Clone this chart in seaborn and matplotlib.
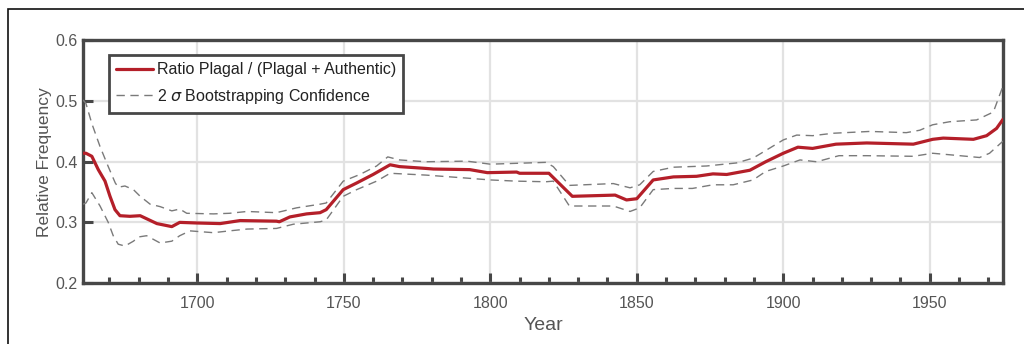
import matplotlib
matplotlib.use("Agg")
import matplotlib.pyplot as plt
from matplotlib.patches import Rectangle
from matplotlib.ticker import MultipleLocator
import seaborn as sns

# Ratio of plagal cadences among all plagal + authentic cadences, smoothed over time
years_ratio = [1661, 1662, 1664, 1666.2, 1668.5, 1670.2, 1671.9, 1673.6, 1677, 1680.5,
               1682.7, 1686.2, 1691.3, 1694, 1699.8, 1707.8, 1714.6, 1727, 1728,
               1731.6, 1737.3, 1741.9, 1744, 1749.8, 1754.4, 1760, 1765.8, 1769,
               1778, 1780.6, 1793, 1799, 1809, 1810, 1820, 1828, 1842.6, 1846.5,
               1850, 1855.6, 1862.5, 1870.4, 1876, 1880.7, 1888.6, 1894, 1900,
               1905, 1910, 1918, 1928.5, 1944.4, 1951, 1954.6, 1964.9, 1969.4,
               1972.8, 1975]
ratio = [0.414, 0.414, 0.409, 0.387, 0.368, 0.343, 0.321, 0.311, 0.310, 0.311,
         0.306, 0.298, 0.293, 0.300, 0.299, 0.298, 0.303, 0.302, 0.301,
         0.309, 0.314, 0.316, 0.321, 0.354, 0.365, 0.379, 0.395, 0.392,
         0.389, 0.388, 0.387, 0.382, 0.383, 0.381, 0.381, 0.343, 0.345, 0.337,
         0.339, 0.370, 0.375, 0.376, 0.380, 0.379, 0.386, 0.400, 0.414,
         0.424, 0.422, 0.429, 0.431, 0.429, 0.437, 0.439, 0.437, 0.443,
         0.455, 0.470]

# Upper and lower 2-sigma bootstrap bounds
years_upper = [1661, 1662, 1664, 1666.8, 1669.6, 1672, 1673, 1675.3, 1678.2, 1680.5,
               1683.9, 1687.3, 1691.3, 1694, 1696.4, 1705.5, 1711, 1717, 1727,
               1733.9, 1741.9, 1744, 1749.8, 1755.5, 1761.2, 1765, 1769, 1778,
               1792, 1800, 1819, 1821.5, 1827, 1842, 1847.7, 1851, 1855.6, 1862.5,
               1873.8, 1884, 1889.7, 1900, 1904.6, 1910, 1917, 1929.6, 1942,
               1946.6, 1951, 1956.8, 1966, 1971.7, 1975]
upper = [0.502, 0.496, 0.463, 0.425, 0.392, 0.365, 0.358, 0.360, 0.354, 0.343,
         0.330, 0.326, 0.319, 0.322, 0.315, 0.314, 0.315, 0.318, 0.316,
         0.324, 0.330, 0.332, 0.368, 0.379, 0.393, 0.408, 0.403, 0.400,
         0.401, 0.396, 0.399, 0.392, 0.361, 0.364, 0.357, 0.362, 0.384, 0.391,
         0.393, 0.398, 0.406, 0.436, 0.444, 0.443, 0.447, 0.450, 0.448,
         0.452, 0.461, 0.466, 0.469, 0.482, 0.525]

years_lower = [1661, 1662, 1664, 1666.8, 1669.6, 1671.3, 1673, 1675.3, 1678.2, 1680,
               1682.7, 1687.3, 1691.3, 1694, 1697.5, 1705.5, 1711, 1717, 1727,
               1732.8, 1741.9, 1744, 1749.8, 1754.4, 1761.2, 1765.8, 1778, 1792,
               1800, 1809, 1819, 1821.5, 1827, 1842, 1847.7, 1851, 1855.6, 1862.5,
               1869, 1876, 1882.9, 1889.7, 1894, 1900, 1905.7, 1911.4, 1919,
               1928.5, 1944.4, 1951, 1958, 1967, 1970.4, 1975]
lower = [0.330, 0.332, 0.349, 0.327, 0.300, 0.278, 0.264, 0.261, 0.269, 0.276,
         0.278, 0.266, 0.269, 0.278, 0.286, 0.283, 0.286, 0.289, 0.290,
         0.297, 0.301, 0.304, 0.343, 0.354, 0.368, 0.381, 0.378, 0.373,
         0.370, 0.368, 0.367, 0.368, 0.327, 0.327, 0.318, 0.324, 0.354, 0.356,
         0.356, 0.362, 0.362, 0.370, 0.384, 0.393, 0.403, 0.400, 0.410,
         0.410, 0.409, 0.414, 0.411, 0.407, 0.414, 0.434]

label_ratio = "Ratio Plagal / (Plagal + Authentic)"
label_band = r"2 $\sigma$ Bootstrapping Confidence"

sns.set_style("white")
plt.rcParams["font.family"] = ["Liberation Sans", "DejaVu Sans"]
plt.rcParams["mathtext.fontset"] = "dejavusans"

RED = "#b41f29"
BAND = "#7a7a7a"
SPINE = "#474747"
TEXT = "#555555"

fig = plt.figure(figsize=(10.24, 3.44), dpi=100)
ax = fig.add_axes([0.0811, 0.1773, 0.8984, 0.7050])

sns.lineplot(x=years_upper, y=upper, ax=ax, color=BAND, lw=1.0,
             linestyle=(0, (6, 4)), label=label_band, zorder=3)
sns.lineplot(x=years_lower, y=lower, ax=ax, color=BAND, lw=1.0,
             linestyle=(0, (6, 4)), zorder=3)
sns.lineplot(x=years_ratio, y=ratio, ax=ax, color=RED, lw=2.3,
             label=label_ratio, zorder=4)

ax.set_xlim(1661, 1975)
ax.set_ylim(0.2, 0.6)
ax.xaxis.set_major_locator(MultipleLocator(50))
ax.xaxis.set_minor_locator(MultipleLocator(10))
ax.yaxis.set_major_locator(MultipleLocator(0.1))
ax.grid(True, which="major", color="#e2e2e2", lw=1.6, zorder=0)
ax.set_axisbelow(True)

for side in ax.spines.values():
    side.set_color(SPINE)
    side.set_linewidth(2.4)

ax.tick_params(axis="both", which="major", direction="in", length=7, width=2.2,
               color=SPINE, labelcolor=TEXT, labelsize=11.5, pad=4,
               bottom=True, left=True, top=False, right=False)
ax.tick_params(axis="x", which="minor", direction="in", length=4.5, width=2.2,
               color=SPINE, bottom=True, top=False)
ax.tick_params(axis="x", which="major", labelsize=11.5, pad=9)
ax.set_yticks([0.2, 0.3, 0.4, 0.5, 0.6])
ax.set_yticklabels(["0.2", "0.3", "0.4", "0.5", "0.6"])

ax.set_xlabel("Year", fontsize=14, color=TEXT, labelpad=5)
ax.set_ylabel("Relative Frequency", fontsize=12.5, color=TEXT, labelpad=2)

handles, labels = ax.get_legend_handles_labels()
order = [labels.index(label_ratio), labels.index(label_band)]
leg = ax.legend([handles[i] for i in order], [labels[i] for i in order],
                loc="upper left", bbox_to_anchor=(0.0283, 0.94), borderaxespad=0,
                fontsize=11.5, frameon=True, fancybox=False, framealpha=1,
                edgecolor=SPINE, handlelength=2.3, handletextpad=0.25,
                labelspacing=0.6, borderpad=0.45)
leg.get_frame().set_linewidth(2.0)
for t in leg.get_texts():
    t.set_color("#222222")

# Outer frame around the figure panel
fig.patches.append(Rectangle((8 / 1024, -0.2), 1.2, 0.2 + (1 - 9 / 344),
                             transform=fig.transFigure, fill=False,
                             edgecolor="#111111", lw=1.2, clip_on=False))

fig.savefig("out.png", dpi=100)
